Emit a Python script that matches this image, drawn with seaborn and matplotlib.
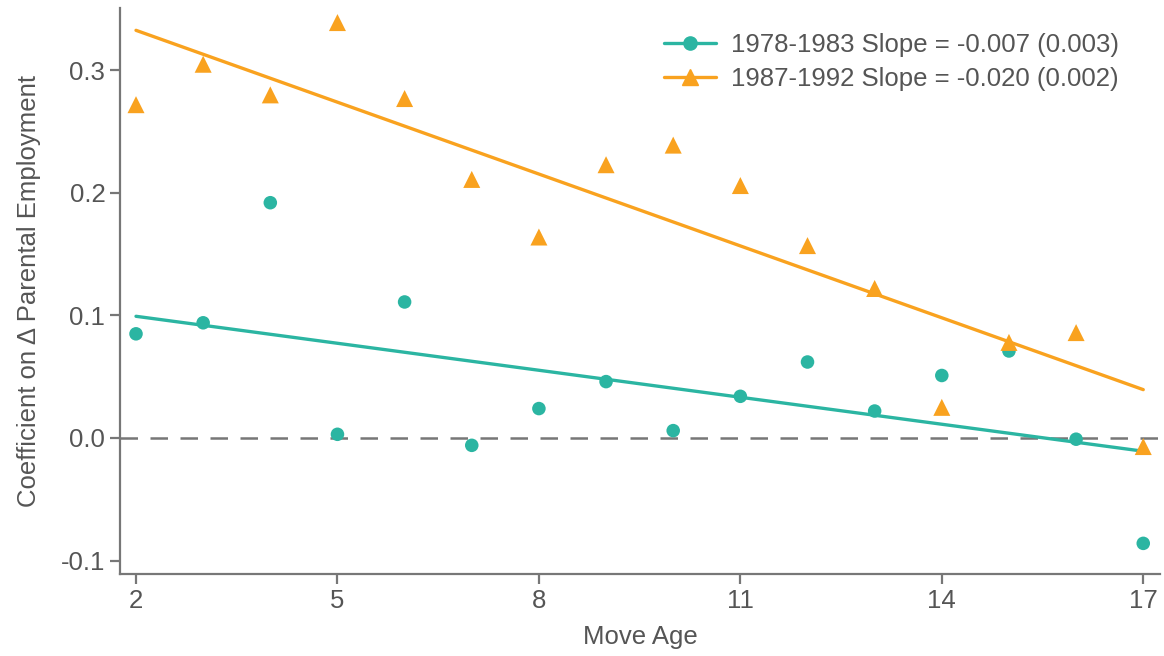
import matplotlib
matplotlib.use('Agg')
import matplotlib.pyplot as plt
from matplotlib.lines import Line2D
import seaborn as sns
import numpy as np
import pandas as pd

# данные
move_age = [2, 3, 4, 5, 6, 7, 8, 9, 10, 11, 12, 13, 14, 15, 16, 17]
coef_7883 = [0.085, 0.094, 0.192, 0.003, 0.111, -0.006, 0.024, 0.046,
             0.006, 0.034, 0.062, 0.022, 0.051, 0.071, -0.001, -0.086]
coef_8792 = [0.272, 0.305, 0.280, 0.339, 0.277, 0.211, 0.164, 0.223,
             0.239, 0.206, 0.157, 0.122, 0.025, 0.078, 0.086, -0.007]
labels = ['1978-1983 Slope = -0.007 (0.003)',
          '1987-1992 Slope = -0.020 (0.002)']

teal = '#2bb5a2'
orange = '#f9a21f'
grey = '#777777'
text_grey = '#555555'

sns.set_style('ticks')
plt.rcParams['font.family'] = ['Liberation Sans', 'DejaVu Sans']
plt.rcParams['axes.unicode_minus'] = False

df = pd.DataFrame({'age': move_age, 'c1': coef_7883, 'c2': coef_8792})

fig = plt.figure(figsize=(11.64, 6.56), dpi=100)
ax = fig.add_axes([0.103, 0.125, 0.8936, 0.863])

ax.axhline(0, color=grey, lw=1.8, dashes=(7, 5), zorder=1)

# линии регрессии (OLS)
sns.regplot(df, x='age', y='c1', scatter=False, ci=None, truncate=True,
            color=teal, line_kws={'lw': 2.4}, ax=ax)
sns.regplot(df, x='age', y='c2', scatter=False, ci=None, truncate=True,
            color=orange, line_kws={'lw': 2.4}, ax=ax)

# точки
sns.scatterplot(df, x='age', y='c1', marker='o', s=95, color=teal,
                edgecolor='none', ax=ax, zorder=3)
sns.scatterplot(df, x='age', y='c2', marker='^', s=150, color=orange,
                edgecolor='none', ax=ax, zorder=3)

ax.set_xlim(1.76, 17.25)
ax.set_ylim(-0.111, 0.351)
ax.set_xticks([2, 5, 8, 11, 14, 17])
ax.set_yticks([-0.1, 0.0, 0.1, 0.2, 0.3])
ax.set_yticklabels(['-0.1', '0.0', '0.1', '0.2', '0.3'])

ax.set_xlabel('Move Age', fontsize=18.5, color=text_grey, labelpad=9)
ax.set_ylabel('Coefficient on Δ Parental Employment', fontsize=18.5,
              color=text_grey, labelpad=14)

sns.despine(ax=ax)
for s in ['left', 'bottom']:
    ax.spines[s].set_color(grey)
    ax.spines[s].set_linewidth(1.6)
ax.tick_params(colors=grey, labelcolor=text_grey, labelsize=18.5,
               length=7, width=1.6)

handles = [Line2D([], [], color=teal, marker='o', ms=9.5, lw=2.4),
           Line2D([], [], color=orange, marker='^', ms=12, lw=2.4)]
leg = ax.legend(handles, labels, loc='upper right', frameon=False,
                fontsize=18.5, handlelength=2.0, handletextpad=0.6,
                labelspacing=0.4, bbox_to_anchor=(0.983, 0.997))
for t in leg.get_texts():
    t.set_color(text_grey)

fig.savefig('out.png', dpi=100)
